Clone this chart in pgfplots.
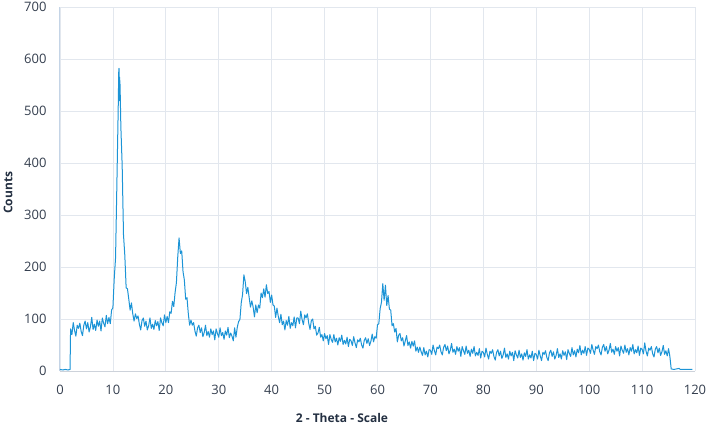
\documentclass[border=0pt]{standalone}
\usepackage{pgfplots}
\pgfplotsset{compat=1.18}
\usepackage{fontspec}
\setmainfont{Open Sans}
\definecolor{lineblue}{RGB}{28,148,214}
\definecolor{ticktext}{RGB}{52,62,78}
\definecolor{labtext}{RGB}{36,48,66}
\definecolor{gridc}{RGB}{226,231,238}
\definecolor{leftax}{RGB}{196,212,230}
\definecolor{botax}{RGB}{205,210,218}
\begin{document}
\begin{tikzpicture}
\useasboundingbox (-60pt,-55pt) rectangle (646pt,371pt);
\begin{axis}[
  scale only axis,
  width=635pt, height=364pt,
  xmin=0, xmax=120, ymin=0, ymax=700,
  xtick={0,10,...,120}, ytick={0,100,...,700},
  grid=major,
  major grid style={gridc, line width=0.8pt},
  axis lines=left,
  axis line style={-},
  x axis line style={botax, line width=1pt},
  y axis line style={leftax, line width=1pt},
  major tick length=0pt,
  tick label style={font=\fontsize{13}{15}\selectfont, text=ticktext},
  /pgf/number format/assume math mode=true,
  xticklabel style={yshift=-11pt},
  yticklabel style={xshift=-10pt},
  xlabel={\textbf{2 - Theta - Scale}},
  ylabel={\textbf{Counts}},
  label style={font=\fontsize{12}{14}\selectfont, text=labtext},
  xlabel style={at={(axis description cs:0.444,-0.129)}, anchor=center},
  ylabel style={at={(axis description cs:-0.0819,0.49)}, anchor=center, rotate=0},
  clip=false,
]
\addplot[lineblue, line width=1pt, mark=none, line join=round] table {
x y
0 3
0.5 2
1 3
1.5 2
1.9 3
2.00 81
2.25 70
2.50 93
2.75 78
3.00 67
3.25 88
3.50 82
3.75 92
4.00 76
4.25 68
4.50 88
4.75 96
5.00 81
5.25 93
5.50 75
5.75 85
6.00 103
6.25 80
6.50 90
6.75 78
7.00 98
7.25 86
7.50 96
7.75 77
8.00 102
8.25 92
8.50 85
8.75 107
9.00 91
9.25 103
9.50 91
9.75 117
10.00 122
10.25 178
10.50 218
10.75 360
11.00 505
11.10 575
11.15 582
11.20 520
11.25 565
11.35 550
11.50 470
11.75 395
12.00 262
12.25 222
12.50 160
12.75 158
13.00 138
13.25 117
13.50 131
13.75 110
14.00 96
14.25 110
14.50 101
14.75 106
15.00 90
15.25 79
15.50 97
15.75 102
16.00 86
16.25 96
16.50 79
16.75 87
17.00 102
17.25 82
17.50 90
17.75 80
18.00 97
18.25 87
18.50 95
18.75 78
19.00 102
19.25 93
19.50 87
19.75 108
20.00 93
20.25 105
20.50 93
20.75 114
21.00 111
21.25 134
21.50 124
21.75 151
22.00 170
22.25 219
22.50 256
22.75 226
23.00 231
23.25 191
23.50 175
23.75 138
24.00 141
24.25 110
24.50 88
24.75 98
25.00 88
25.25 93
25.50 77
25.75 67
26.00 83
26.25 88
26.50 74
26.75 83
27.00 66
27.25 74
27.50 88
27.75 68
28.00 76
28.25 65
28.50 81
28.75 70
29.00 77
29.25 60
29.50 81
29.75 72
30.00 65
30.25 83
30.50 68
30.75 74
31.00 61
31.25 77
31.50 69
31.75 84
32.00 64
32.25 73
32.50 67
32.75 58
33.00 83
33.25 65
33.50 84
33.75 95
34.00 99
34.25 131
34.50 147
34.75 185
35.00 172
35.25 149
35.50 161
35.75 141
36.00 123
36.25 135
36.50 123
36.75 104
37.00 127
37.25 112
37.50 127
37.75 121
38.00 150
38.25 141
38.50 158
38.75 142
39.00 166
39.25 149
39.50 153
39.75 132
40.00 146
40.25 127
40.50 125
40.75 103
41.00 121
41.25 105
41.50 93
41.75 109
42.00 89
42.25 96
42.50 79
42.75 97
43.00 88
43.25 105
43.50 82
43.75 93
44.00 87
44.25 104
44.50 83
44.75 102
45.00 102
45.25 91
45.50 115
45.75 99
46.00 89
46.25 108
46.50 102
46.75 110
47.00 92
47.25 80
47.50 97
47.75 100
48.00 81
48.25 86
48.50 69
48.75 73
49.00 84
49.25 65
49.50 70
49.75 58
50.00 72
50.25 62
50.50 68
50.75 51
51.00 70
51.25 61
51.50 55
51.75 70
52.00 56
52.25 63
52.50 50
52.75 64
53.00 57
53.25 69
53.50 51
53.75 59
54.00 52
54.25 65
54.50 47
54.75 61
55.00 58
55.25 49
55.50 66
55.75 54
56.00 45
56.25 60
56.50 56
56.75 63
57.00 50
57.25 44
57.50 59
57.75 64
58.00 53
58.25 62
58.50 49
58.75 57
59.00 71
59.25 56
59.50 66
59.75 63
60.00 89
60.25 91
60.50 120
60.75 132
61.00 168
61.25 136
61.50 165
61.75 126
62.00 145
62.25 119
62.50 117
62.75 87
63.00 91
63.25 75
63.50 82
63.75 56
64.00 69
64.25 72
64.50 58
64.75 64
65.00 48
65.25 58
65.50 68
65.75 49
66.00 56
66.25 44
66.50 57
66.75 48
67.00 58
67.25 38
67.50 46
67.75 36
68.00 46
68.25 37
68.50 30
68.75 45
69.00 31
69.25 38
69.50 27
69.75 41
70.00 40
70.25 32
70.50 50
70.75 39
71.00 31
71.25 46
71.50 43
71.75 50
72.00 37
72.25 31
72.50 46
72.75 51
73.00 39
73.25 48
73.50 33
73.75 40
74.00 53
74.25 36
74.50 42
74.75 32
75.00 47
75.25 38
75.50 45
75.75 28
76.00 47
76.25 39
76.50 32
76.75 48
77.00 34
77.25 40
77.50 28
77.75 42
78.00 34
78.25 47
78.50 29
78.75 36
79.00 30
79.25 43
79.50 25
79.75 38
80.00 36
80.25 27
80.50 44
80.75 32
81.00 23
81.25 38
81.50 34
81.75 41
82.00 28
82.25 21
82.50 36
82.75 41
83.00 29
83.25 38
83.50 24
83.75 31
84.00 44
84.25 26
84.50 33
84.75 23
85.00 38
85.25 29
85.50 36
85.75 20
86.00 39
86.25 31
86.50 25
86.75 40
87.00 26
87.25 33
87.50 21
87.75 35
88.00 28
88.25 41
88.50 23
88.75 31
89.00 25
89.25 38
89.50 20
89.75 34
90.00 32
90.25 23
90.50 40
90.75 29
91.00 20
91.25 36
91.50 32
91.75 39
92.00 26
92.25 20
92.50 35
92.75 40
93.00 28
93.25 37
93.50 23
93.75 30
94.00 43
94.25 26
94.50 33
94.75 23
95.00 39
95.25 30
95.50 37
95.75 22
96.00 41
96.25 34
96.50 28
96.75 45
97.00 31
97.25 39
97.50 27
97.75 42
98.00 35
98.25 49
98.50 31
98.75 40
99.00 34
99.25 47
99.50 30
99.75 44
100.00 42
100.25 34
100.50 51
100.75 40
101.00 32
101.25 47
101.50 43
101.75 50
102.00 37
102.25 31
102.50 46
102.75 51
103.00 38
103.25 47
103.50 33
103.75 40
104.00 53
104.25 36
104.50 42
104.75 32
105.00 47
105.25 38
105.50 45
105.75 29
106.00 48
106.25 40
106.50 34
106.75 50
107.00 36
107.25 43
107.50 31
107.75 45
108.00 38
108.25 51
108.50 33
108.75 41
109.00 35
109.25 48
109.50 30
109.75 44
110.00 42
110.25 33
110.50 54
110.75 38
111.00 29
111.25 44
111.50 40
111.75 47
112.00 33
112.25 27
112.50 42
112.75 47
113.00 35
113.25 44
113.50 30
113.75 37
114.00 49
114.25 32
114.50 39
114.75 29
115.00 43
115.25 28
115.50 4
116 3
117 5
117.2 3
118 3
119 3
119.5 3
};
\end{axis}
\end{tikzpicture}
\end{document}
